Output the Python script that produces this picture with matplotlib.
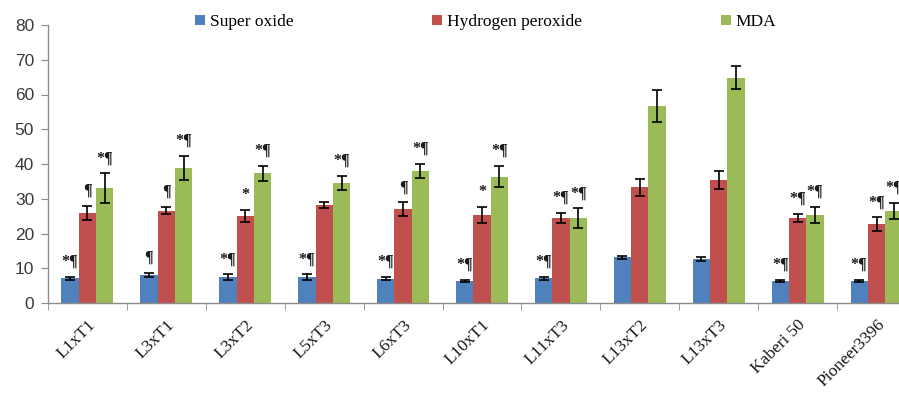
import matplotlib
matplotlib.use("Agg")
import matplotlib.pyplot as plt
import numpy as np

# Genotypes on the x axis
categories = ["L1xT1", "L3xT1", "L3xT2", "L5xT3", "L6xT3", "L10xT1",
              "L11xT3", "L13xT2", "L13xT3", "Kaberi 50", "Pioneer3396"]

# Means and standard errors for each oxidative-stress marker
superoxide = [7.1, 8.1, 7.5, 7.5, 7.0, 6.3, 7.1, 13.1, 12.6, 6.3, 6.3]
superoxide_err = [0.5, 0.6, 0.8, 0.8, 0.5, 0.4, 0.4, 0.5, 0.6, 0.4, 0.4]
h2o2 = [26.0, 26.6, 25.1, 28.2, 27.0, 25.3, 24.4, 33.3, 35.4, 24.4, 22.7]
h2o2_err = [2.0, 1.1, 1.8, 0.8, 2.0, 2.2, 1.5, 2.5, 2.6, 1.2, 2.0]
mda = [33.0, 38.9, 37.3, 34.6, 38.1, 36.4, 24.4, 56.7, 64.8, 25.3, 26.5]
mda_err = [4.3, 3.5, 2.1, 2.0, 2.0, 3.0, 2.8, 4.5, 3.3, 2.4, 2.4]

# Significance marks above each bar
superoxide_sig = ["*¶", "¶", "*¶", "*¶", "*¶", "*¶", "*¶", "", "", "*¶", "*¶"]
h2o2_sig = ["¶", "¶", "*", "", "¶", "*", "*¶", "", "", "*¶", "*¶"]
mda_sig = ["*¶", "*¶", "*¶", "*¶", "*¶", "*¶", "*¶", "", "", "*¶", "*¶"]

series_names = ["Super oxide", "Hydrogen peroxide", "MDA"]
colors = ["#4F81BD", "#C0504D", "#9BBB59"]

fig = plt.figure(figsize=(8.99, 3.96), dpi=100)
ax = fig.add_axes([48 / 899, 93 / 396, 868 / 899, 278 / 396])

x = np.arange(len(categories))
width = 0.22
offsets = [-width, 0.0, width]
values = [superoxide, h2o2, mda]
errors = [superoxide_err, h2o2_err, mda_err]
sigs = [superoxide_sig, h2o2_sig, mda_sig]

handles = []
for vals, errs, sig, off, col, name in zip(values, errors, sigs, offsets,
                                           colors, series_names):
    b = ax.bar(x + off, vals, width, color=col, label=name,
               yerr=errs, capsize=3.5,
               error_kw=dict(ecolor="black", elinewidth=1.2, capthick=1.2),
               zorder=2)
    handles.append(b)
    for xi, v, e, s in zip(x, vals, errs, sig):
        if s:
            ax.annotate(s, (xi + off, v + e), xytext=(0, 5),
                        textcoords="offset points", ha="center", va="bottom",
                        fontsize=11.5, fontweight="bold",
                        family="Liberation Serif", color="#1a1a1a",
                        annotation_clip=False)

ax.set_xlim(-0.5, len(categories) - 0.5)
ax.set_ylim(0, 80)
ax.set_yticks(np.arange(0, 81, 10))

for side in ["top", "right"]:
    ax.spines[side].set_visible(False)
for side in ["left", "bottom"]:
    ax.spines[side].set_color("#8c8c8c")
    ax.spines[side].set_linewidth(1.0)

ax.tick_params(axis="y", direction="out", length=5, color="#8c8c8c",
               labelsize=12.5, labelcolor="#3a3a3a", pad=5)
for lab in ax.get_yticklabels():
    lab.set_family("Liberation Sans")

ax.set_xticks(x)
ax.set_xticklabels(categories, rotation=45, ha="right",
                   rotation_mode="anchor", family="Liberation Serif",
                   fontsize=12.5, color="#1a1a1a")
ax.tick_params(axis="x", which="major", length=0, pad=10)
ax.set_xticks(np.arange(-0.5, len(categories), 1.0), minor=True)
ax.tick_params(axis="x", which="minor", direction="out", length=5,
               color="#8c8c8c")

fig.legend(handles=handles, labels=series_names, loc="upper left",
           bbox_to_anchor=(183 / 899, 0.995), ncol=3, frameon=False,
           prop=dict(family="Liberation Serif", size=12.5),
           handlelength=0.55, handleheight=0.55, handletextpad=0.3,
           columnspacing=8.0, borderaxespad=0.3)

fig.savefig("out.png", dpi=100)
